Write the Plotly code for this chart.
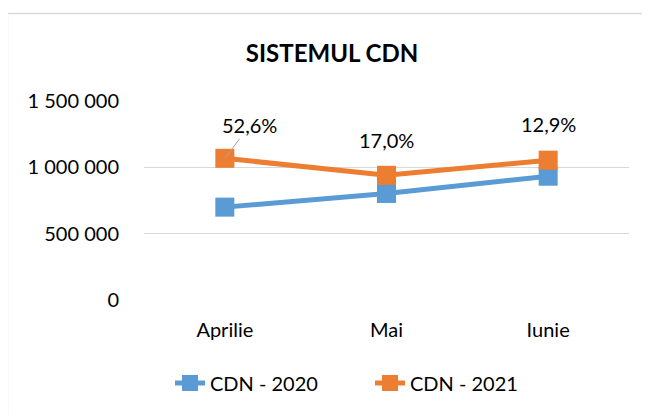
import plotly.graph_objects as go

months = ["Aprilie", "Mai", "Iunie"]
cdn_2020 = [700000, 803000, 933000]
cdn_2021 = [1068000, 940000, 1054000]
growth_labels = ["52,6%", "17,0%", "12,9%"]
y_ticks = [0, 500000, 1000000, 1500000]
y_tick_labels = ["0", "500 000", "1 000 000", "1 500 000"]

BLUE = "#5B9BD5"
ORANGE = "#ED7D31"
FONT = "Lato"

# page body has an 8px margin; figure is sized/positioned to compensate
OFF = 8
W, H = 650 - OFF, 415 - OFF
PL, PR, PT, PB = 144 - OFF, 628.7 - OFF, 101 - OFF, 300 - OFF

fig = go.Figure()
fig.add_trace(go.Scatter(
    x=months, y=cdn_2020, name="CDN - 2020", mode="lines+markers",
    line=dict(color=BLUE, width=5),
    marker=dict(symbol="square", size=19, color=BLUE),
))
fig.add_trace(go.Scatter(
    x=months, y=cdn_2021, name="CDN - 2021", mode="lines+markers",
    line=dict(color=ORANGE, width=5),
    marker=dict(symbol="square", size=19, color=ORANGE),
))

offsets = [(25, -33, True), (0, -35, False), (0, -36, False)]
for m, v, lab, (ax, ay, arrow) in zip(months, cdn_2021, growth_labels, offsets):
    fig.add_annotation(
        x=m, y=v, text=lab, showarrow=True, ax=ax, ay=ay,
        arrowhead=0, arrowwidth=1,
        arrowcolor="#A6A6A6" if arrow else "rgba(0,0,0,0)",
        font=dict(family=FONT, size=20, color="#000000"),
    )

pw, ph = PR - PL, PB - PT
fig.add_shape(type="rect", xref="paper", yref="paper",
              x0=(7.5 - OFF - PL) / pw, x1=(700 - PL) / pw,
              y0=(PB - 460) / ph, y1=(PB - (13.5 - OFF)) / ph,
              line=dict(color="#D9D9D9", width=1.5), layer="below")

fig.update_layout(
    width=W, height=H,
    margin=dict(l=PL, r=W - PR, t=PT, b=H - PB, pad=0),
    paper_bgcolor="white", plot_bgcolor="white",
    font=dict(family=FONT, size=20, color="#000000"),
    title=dict(text="<b>SISTEMUL CDN</b>", x=(332 - OFF) / W, xref="container",
               y=1 - (54 - OFF) / H, yref="container", yanchor="middle", xanchor="center",
               font=dict(family=FONT, size=24, color="#000000")),
    showlegend=True,
    legend=dict(orientation="h", xref="container", yref="container",
                x=(170 - OFF) / W, xanchor="left", y=1 - (383 - OFF) / H, yanchor="middle",
                font=dict(family=FONT, size=20, color="#000000"),
                entrywidth=155, entrywidthmode="pixels"),
    xaxis=dict(showgrid=False, showline=False, zeroline=False, ticks="",
               range=[-0.5, 2.5], ticklabelstandoff=16),
    yaxis=dict(range=[0, 1500000], tickvals=y_ticks, ticktext=y_tick_labels,
               showgrid=True, gridcolor="#D9D9D9", gridwidth=1,
               zeroline=False, showline=False, ticks="", ticklabelstandoff=24),
)

fig.write_html("out.html")
